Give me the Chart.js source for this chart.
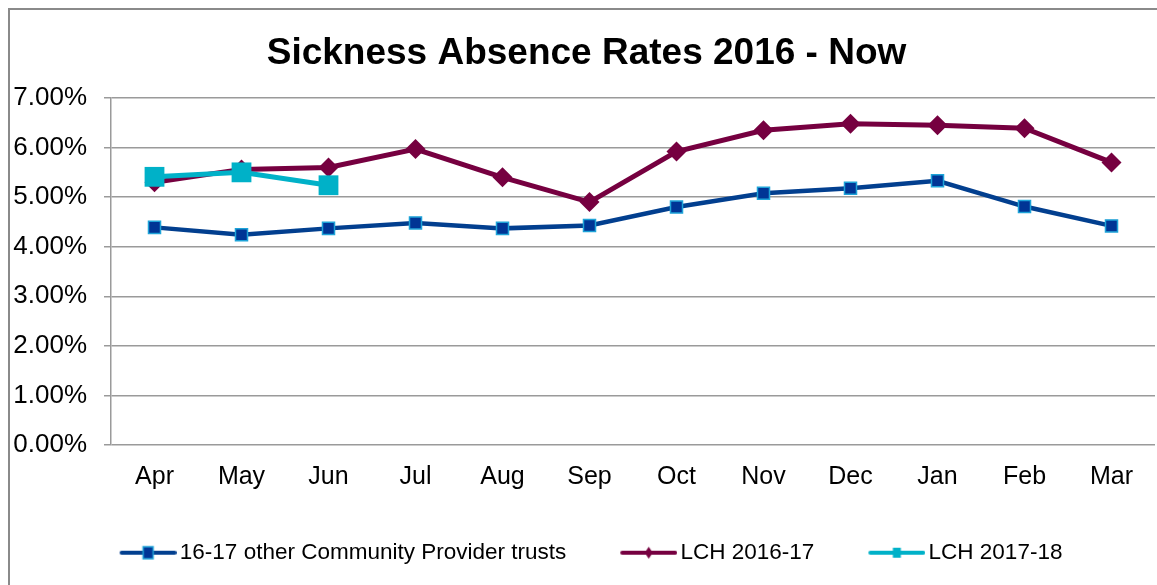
<!DOCTYPE html>
<html>
<head>
<meta charset="utf-8">
<script src="https://cdn.jsdelivr.net/npm/chart.js@4.4.1/dist/chart.umd.min.js"></script>
<style>
  html, body { margin: 0; padding: 0; background: #fff; }
  canvas { display: block; }
</style>
</head>
<body>
<canvas id="absence-chart" width="1157" height="585"></canvas>
<script>
// monthly sickness absence rates, %
const months = ["Apr", "May", "Jun", "Jul", "Aug", "Sep", "Oct", "Nov", "Dec", "Jan", "Feb", "Mar"];
const otherTrusts = [4.39, 4.24, 4.37, 4.48, 4.37, 4.43, 4.80, 5.08, 5.18, 5.33, 4.81, 4.42];
const lch1617 = [5.30, 5.56, 5.60, 5.97, 5.40, 4.90, 5.92, 6.35, 6.48, 6.45, 6.39, 5.70];
const lch1718 = [5.41, 5.50, 5.24];
const seriesNames = ["16-17 other Community Provider trusts", "LCH 2016-17", "LCH 2017-18"];
const yTicks = [0, 1, 2, 3, 4, 5, 6, 7];

const navy = "#023f8f";
const navyFill = "#003595";
const skyEdge = "#1ea3d8";
const maroon = "#760040";
const cyan = "#00b1c8";
const gridGrey = "#9a9a9a";
const font = "Liberation Sans";

// little line+marker swatch for the legend
function swatch(color, marker) {
  const c = document.createElement("canvas");
  c.width = 74; c.height = 22;
  const g = c.getContext("2d");
  const cy = 11, x0 = 19, x1 = 72, mx = 45.5;
  g.strokeStyle = color;
  g.lineWidth = 4;
  g.lineCap = "round";
  g.beginPath(); g.moveTo(x0, cy); g.lineTo(x1, cy); g.stroke();
  if (marker === "blue") {
    g.fillStyle = navyFill; g.strokeStyle = skyEdge; g.lineWidth = 1.5;
    g.fillRect(mx - 5, cy - 6, 10, 12); g.strokeRect(mx - 5, cy - 6, 10, 12);
  } else if (marker === "diamond") {
    g.fillStyle = color;
    g.beginPath(); g.moveTo(mx, cy - 6); g.lineTo(mx + 4, cy); g.lineTo(mx, cy + 6); g.lineTo(mx - 4, cy); g.closePath(); g.fill();
  } else {
    g.fillStyle = color;
    g.fillRect(mx - 4, cy - 5, 8, 10);
  }
  return c;
}
const swatches = [swatch(navy, "blue"), swatch(maroon, "diamond"), swatch(cyan, "square")];

// outer frame on the left and top
const frame = {
  id: "frame",
  beforeDraw(chart) {
    const ctx = chart.ctx;
    ctx.save();
    ctx.fillStyle = "#fff";
    ctx.fillRect(0, 0, chart.width, chart.height);
    ctx.strokeStyle = "#8a8a8a";
    ctx.lineWidth = 2;
    ctx.beginPath();
    ctx.moveTo(9, chart.height); ctx.lineTo(9, 9); ctx.lineTo(chart.width, 9);
    ctx.stroke();
    ctx.restore();
  }
};

new Chart(document.getElementById("absence-chart"), {
  type: "line",
  data: {
    labels: months,
    datasets: [
      {
        label: seriesNames[0], data: otherTrusts, order: 2,
        borderColor: navy, borderWidth: 4.5,
        pointStyle: "rect", pointRadius: 8.5, pointBackgroundColor: navyFill,
        pointBorderColor: skyEdge, pointBorderWidth: 1.5
      },
      {
        label: seriesNames[1], data: lch1617, order: 1,
        borderColor: maroon, borderWidth: 5,
        pointStyle: "rectRot", pointRadius: 10, pointBackgroundColor: maroon,
        pointBorderColor: maroon, pointBorderWidth: 0
      },
      {
        label: seriesNames[2], data: lch1718, order: 0,
        borderColor: cyan, borderWidth: 5,
        pointStyle: "rect", pointRadius: 14, pointBackgroundColor: cyan,
        pointBorderColor: cyan, pointBorderWidth: 0
      }
    ]
  },
  options: {
    responsive: false,
    animation: false,
    layout: { autoPadding: false, padding: { left: 18, right: 2, top: 0, bottom: 11 } },
    plugins: {
      title: {
        display: true,
        text: "Sickness Absence Rates 2016 - Now",
        color: "#000",
        font: { family: font, size: 37, weight: "bold" },
        padding: { top: 32, bottom: 21.6 }
      },
      legend: {
        position: "bottom",
        labels: {
          usePointStyle: true,
          pointStyleWidth: 58,
          padding: 45,
          color: "#000",
          font: { family: font, size: 22.5 },
          sort: (a, b) => a.datasetIndex - b.datasetIndex,
          generateLabels(chart) {
            const items = Chart.defaults.plugins.legend.labels.generateLabels(chart);
            items.forEach(it => { it.pointStyle = swatches[it.datasetIndex]; });
            return items;
          }
        }
      },
      tooltip: { enabled: false }
    },
    scales: {
      x: {
        offset: true,
        grid: { display: false, drawTicks: false },
        border: { display: false },
        afterFit: s => { s.height = 51.5; },
        ticks: { padding: 17, color: "#000", font: { family: font, size: 25 } }
      },
      y: {
        min: yTicks[0],
        max: yTicks[yTicks.length - 1],
        afterBuildTicks: s => { s.ticks = yTicks.map(v => ({ value: v })); },
        afterFit: s => {
          s.width = 93;
          // let the percent labels run past the scale box towards the frame
          s._computeLabelArea = () => undefined;
        },
        ticks: {
          padding: 17,
          color: "#000",
          font: { family: font, size: 26 },
          callback: v => v.toFixed(2) + "%"
        },
        grid: { color: gridGrey, lineWidth: 1.5, tickLength: 7 },
        border: { color: gridGrey, width: 1.5 }
      }
    }
  },
  plugins: [frame]
});
</script>
</body>
</html>
